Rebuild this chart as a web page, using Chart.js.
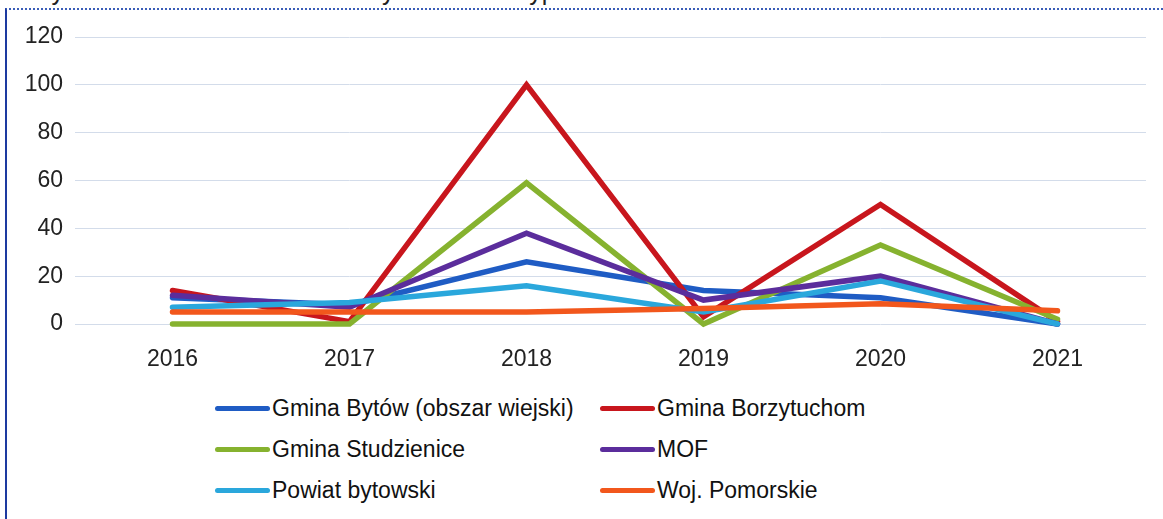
<!DOCTYPE html>
<html lang="pl">
  <head>
    <meta charset="UTF-8" />
    <title>Liczba ofiar śmiertelnych na 100 wypadków</title>
    <script src="https://cdn.jsdelivr.net/npm/chart.js"></script>
    <style>
      body { margin: 0; width: 1163px; height: 519px; background: #fff; overflow: hidden; position: relative; font-family: "Liberation Sans", Arial, sans-serif; }
      #title { position: absolute; left: 28px; top: -23px; font-size: 25px; color: #222; white-space: nowrap; }
      #frame { position: absolute; left: 5px; top: 8px; right: -4px; bottom: -4px; border-left: 2px solid #1d3aa0; border-top: 2px dotted #3a5db8; }
      #wrap { position: absolute; left: 0; top: 0; width: 1163px; height: 380px; }
      #legend { position: absolute; left: 215px; top: 393px; display: grid; grid-template-columns: 385px auto; row-gap: 11px; }
      .item { display: flex; align-items: center; height: 30px; font-size: 23px; color: #111; }
      .swatch { width: 55px; height: 5px; border-radius: 3px; margin-right: 2px; }
    </style>
  </head>
  <body>
    <div id="title">Wykres 7. Liczba ofiar śmiertelnych na 100 wypadków</div>
    <div id="frame"></div>
    <div id="wrap"><canvas id="chart"></canvas></div>
    <div id="legend"></div>

    <script>
      const years = ["2016", "2017", "2018", "2019", "2020", "2021"];
      const seriesNames = [
        "Gmina Bytów (obszar wiejski)",
        "Gmina Borzytuchom",
        "Gmina Studzienice",
        "MOF",
        "Powiat bytowski",
        "Woj. Pomorskie",
      ];
      const bytow = [11, 8, 26, 14, 11, 0];
      const borzytuchom = [14, 1, 100, 3, 50, 1];
      const studzienice = [0, 0, 59, 0, 33, 2];
      const mof = [12, 7, 38, 10, 20, 0];
      const powiat = [7, 9, 16, 5, 18, 0];
      const pomorskie = [5, 5, 5, 6.5, 8.5, 5.5];
      const yTicks = [0, 20, 40, 60, 80, 100, 120];

      const colors = ["#1f5cc4", "#c8161d", "#86b22f", "#5b2d9c", "#2aa7dc", "#f2571c"];
      const values = [bytow, borzytuchom, studzienice, mof, powiat, pomorskie];

      const datasets = values.map((v, i) => ({
        label: seriesNames[i],
        data: v,
        borderColor: colors[i],
        backgroundColor: colors[i],
        borderWidth: 5.5,
        pointRadius: 0,
        tension: 0,
        borderCapStyle: "round",
        borderJoinStyle: "miter",
        clip: false,
        // later series drawn on top
        order: values.length - i,
      }));

      new Chart(document.getElementById("chart"), {
        type: "line",
        data: { labels: years, datasets: datasets },
        options: {
          responsive: true,
          maintainAspectRatio: false,
          animation: false,
          layout: { padding: { top: 37, right: 17, left: 0, bottom: 0 } },
          plugins: { legend: { display: false }, tooltip: { enabled: false } },
          scales: {
            x: {
              offset: true,
              grid: { display: false },
              border: { display: false },
              ticks: { color: "#222", font: { size: 23, family: "Liberation Sans" }, padding: 14 },
              afterFit: (s) => { s.height = 56; },
            },
            y: {
              min: 0,
              max: 120,
              afterBuildTicks: (s) => { s.ticks = yTicks.map((v) => ({ value: v })); },
              grid: { color: "#d3dcea", lineWidth: 1, tickLength: 9 },
              border: { display: false },
              ticks: { color: "#222", font: { size: 23, family: "Liberation Sans" }, padding: 12 },
              afterFit: (s) => { s.width = 84; },
            },
          },
        },
      });

      // legend, two columns
      const legend = document.getElementById("legend");
      seriesNames.forEach((name, i) => {
        const item = document.createElement("div");
        item.className = "item";
        item.innerHTML = '<span class="swatch" style="background:' + colors[i] + '"></span>' + name;
        legend.appendChild(item);
      });
    </script>
  </body>
</html>
